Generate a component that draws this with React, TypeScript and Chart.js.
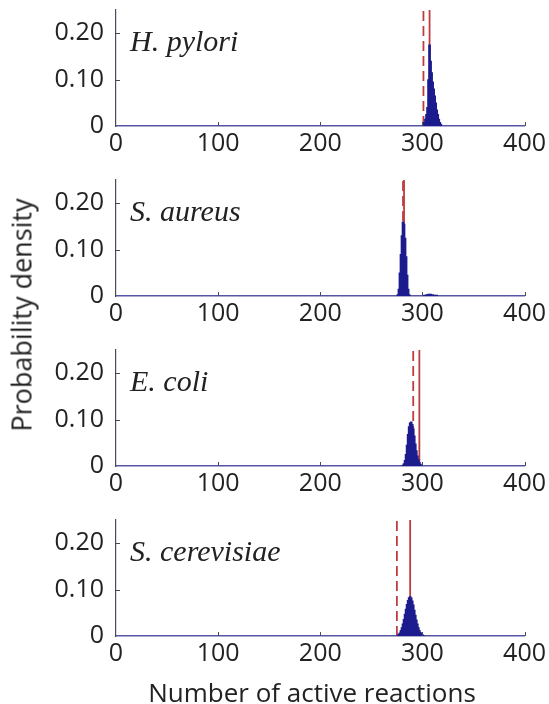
import React, { useEffect, useRef } from 'react';
import { Chart, registerables } from 'chart.js';

Chart.register(...registerables);

// ---------- data ----------
const X_TICKS = [0, 100, 200, 300, 400];
const Y_TICKS = [0, 0.1, 0.2];
const X_MIN = 0;
const X_MAX = 400;
const Y_MAX = 0.25;

const speciesNames = ['H. pylori', 'S. aureus', 'E. coli', 'S. cerevisiae'];

const hpyloriBins = [302, 303, 304, 305, 306, 307, 308, 309, 310, 311, 312, 313, 314, 315, 316, 317, 318];
const hpyloriDensity = [0.008, 0.015, 0.025, 0.04, 0.1, 0.175, 0.14, 0.115, 0.095, 0.08, 0.065, 0.05, 0.035, 0.025, 0.015, 0.008, 0.004];

const saureusBins = [276, 277, 278, 279, 280, 281, 282, 283, 284, 285, 286, 287, 302, 304, 306, 308, 310, 312, 314];
const saureusDensity = [0.003, 0.015, 0.05, 0.09, 0.13, 0.16, 0.155, 0.125, 0.085, 0.045, 0.015, 0.003, 0.002, 0.003, 0.004, 0.004, 0.003, 0.002, 0.002];

const ecoliBins = [281, 282, 283, 284, 285, 286, 287, 288, 289, 290, 291, 292, 293, 294, 295, 296, 297, 298, 299];
const ecoliDensity = [0.002, 0.005, 0.012, 0.025, 0.045, 0.068, 0.085, 0.093, 0.095, 0.09, 0.08, 0.065, 0.048, 0.033, 0.022, 0.014, 0.008, 0.004, 0.002];

const scerevisiaeBins = [276, 277, 278, 279, 280, 281, 282, 283, 284, 285, 286, 287, 288, 289, 290, 291, 292, 293, 294, 295, 296, 297, 298, 299, 300, 301];
const scerevisiaeDensity = [0.002, 0.004, 0.007, 0.012, 0.018, 0.026, 0.036, 0.047, 0.058, 0.068, 0.077, 0.083, 0.085, 0.082, 0.076, 0.067, 0.056, 0.045, 0.035, 0.026, 0.018, 0.012, 0.008, 0.005, 0.003, 0.001];

const binsList = [hpyloriBins, saureusBins, ecoliBins, scerevisiaeBins];
const densityList = [hpyloriDensity, saureusDensity, ecoliDensity, scerevisiaeDensity];

const solidLines = [307, 282, 297, 288];
const dashedLines = [301, 281, 291, 275];

// ---------- styles ----------
const BLUE = '#1c1c8e';
const AXIS_BLUE = '#5656a6';
const AXIS_DARK = '#4a4a5a';
const RED = '#bf3b3e';
const TEXT = '#222';
const SANS = '"Open Sans", "DejaVu Sans", sans-serif';
const SERIF = '"Liberation Serif", "DejaVu Serif", serif';

const PANEL_TOPS = [10, 180, 350, 520];
const CANVAS_H = 170;
const W = 549;

function Panel({ index }: { index: number }) {
  const ref = useRef<HTMLCanvasElement | null>(null);
  useEffect(() => {
    const canvas = ref.current;
    if (!canvas) return;
    const bins = binsList[index];
    const dens = densityList[index];
    const name = speciesNames[index];

    const decor = {
      id: 'decor' + index,
      afterDraw(chart: any) {
        const { ctx, chartArea, scales } = chart;
        const xs = scales.x;
        const ys = scales.y;
        ctx.save();
        ctx.lineWidth = 1;
        ctx.strokeStyle = AXIS_DARK;
        X_TICKS.forEach((v) => {
          if (v === X_MIN) return;
          const px = Math.round(xs.getPixelForValue(v)) + 0.5;
          ctx.beginPath();
          ctx.moveTo(px, chartArea.bottom);
          ctx.lineTo(px, chartArea.bottom - 4);
          ctx.stroke();
        });
        Y_TICKS.forEach((v) => {
          if (v === 0) return;
          const py = Math.round(ys.getPixelForValue(v)) + 0.5;
          ctx.beginPath();
          ctx.moveTo(chartArea.left, py);
          ctx.lineTo(chartArea.left + 4, py);
          ctx.stroke();
        });
        ctx.fillStyle = TEXT;
        ctx.font = `italic 30px ${SERIF}`;
        ctx.textAlign = 'left';
        ctx.textBaseline = 'middle';
        ctx.fillText(name, chartArea.left + 14, chartArea.top + 33);
        ctx.restore();
      },
    };

    const chart = new Chart(canvas, {
      type: 'bar',
      data: {
        datasets: [
          {
            type: 'bar',
            data: bins.map((b, i) => ({ x: b, y: dens[i] })),
            backgroundColor: BLUE,
            borderWidth: 0,
            barThickness: 2,
            grouped: false,
            order: 1,
          } as any,
          {
            type: 'line',
            data: [
              { x: solidLines[index], y: 0 },
              { x: solidLines[index], y: Y_MAX },
            ],
            borderColor: RED,
            borderWidth: 1.8,
            pointRadius: 0,
            order: 2,
          } as any,
          {
            type: 'line',
            data: [
              { x: dashedLines[index], y: 0 },
              { x: dashedLines[index], y: Y_MAX },
            ],
            borderColor: RED,
            borderWidth: 1.8,
            borderDash: [10, 5],
            pointRadius: 0,
            order: 2,
          } as any,
        ],
      },
      options: {
        animation: false,
        responsive: false,
        maintainAspectRatio: false,
        events: [],
        layout: { padding: { top: 10, right: 24, left: 0, bottom: 0 } },
        plugins: { legend: { display: false }, tooltip: { enabled: false } },
        scales: {
          x: {
            type: 'linear',
            min: X_MIN,
            max: X_MAX,
            offset: false,
            afterBuildTicks: (s: any) => {
              s.ticks = X_TICKS.map((v) => ({ value: v }));
            },
            afterFit: (s: any) => {
              s.height = 44;
            },
            ticks: {
              color: TEXT,
              font: { family: SANS, size: 25 },
              padding: 3,
              maxRotation: 0,
              autoSkip: false,
              callback: (v: any) => String(v),
            },
            grid: { display: false, drawTicks: false, offset: false },
            border: { display: true, color: AXIS_BLUE, width: 1.5 },
          },
          y: {
            type: 'linear',
            min: 0,
            max: Y_MAX,
            afterBuildTicks: (s: any) => {
              s.ticks = Y_TICKS.map((v) => ({ value: v }));
            },
            afterFit: (s: any) => {
              s.width = 116;
              s.paddingTop = 0;
              s.paddingBottom = 0;
            },
            ticks: {
              color: TEXT,
              font: { family: SANS, size: 25 },
              padding: 12,
              autoSkip: false,
              callback: (v: any) => (Number(v) === 0 ? '0' : Number(v).toFixed(2)),
            },
            grid: { display: false, drawTicks: false },
            border: { display: true, color: AXIS_DARK, width: 1.2 },
          },
        },
      } as any,
      plugins: [decor],
    });
    return () => chart.destroy();
  }, [index]);

  return (
    <canvas
      ref={ref}
      width={W}
      height={CANVAS_H}
      style={{ position: 'absolute', left: 0, top: PANEL_TOPS[index] - 10, width: W, height: CANVAS_H }}
    />
  );
}

export default function App() {
  return (
    <div
      style={{
        position: 'absolute',
        left: 0,
        top: 0,
        width: W,
        height: 704,
        overflow: 'hidden',
        background: '#fff',
      }}
    >
      {[0, 1, 2, 3].map((i) => (
        <Panel key={i} index={i} />
      ))}
      <div
        style={{
          position: 'absolute',
          left: 21,
          top: 315,
          transform: 'translate(-50%, -50%) rotate(-90deg)',
          whiteSpace: 'nowrap',
          font: `27px ${SANS}`,
          color: TEXT,
        }}
      >
        Probability density
      </div>
      <div
        style={{
          position: 'absolute',
          left: 312,
          top: 692,
          transform: 'translate(-50%, -50%)',
          whiteSpace: 'nowrap',
          font: `26px ${SANS}`,
          color: TEXT,
        }}
      >
        Number of active reactions
      </div>
    </div>
  );
}
